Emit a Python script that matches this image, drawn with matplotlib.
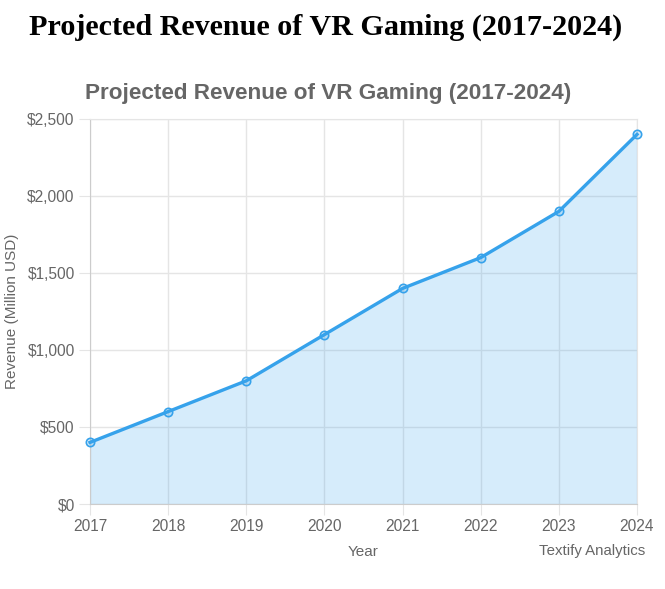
import matplotlib.pyplot as plt
from matplotlib.ticker import FuncFormatter

# data
years = [2017, 2018, 2019, 2020, 2021, 2022, 2023, 2024]
revenue = [400, 600, 800, 1100, 1400, 1600, 1900, 2400]
y_ticks = [0, 500, 1000, 1500, 2000, 2500]

blue = '#36A2EB'
grey = '#666666'
grid = '#e5e5e5'

fig = plt.figure(figsize=(6.65, 5.89), dpi=100)
W, H = 665, 589
ax = fig.add_axes([90 / W, (H - 504) / H, (637 - 90) / W, (504 - 119) / H])

ax.fill_between(years, revenue, 0, color=blue, alpha=0.2, linewidth=0)
ax.plot(years, revenue, color=blue, linewidth=2.4, marker='o', markersize=6,
        markerfacecolor=(54/255, 162/255, 235/255, 0.2), markeredgecolor=blue,
        markeredgewidth=1.2, clip_on=False, zorder=3)

ax.set_xlim(2017, 2024)
ax.set_ylim(0, 2500)
ax.set_xticks(years)
ax.set_yticks(y_ticks)
ax.yaxis.set_major_formatter(FuncFormatter(lambda v, p: f"${int(v):,}"))
ax.grid(True, color=grid, linewidth=1)
ax.set_axisbelow(True)
for s in ax.spines.values():
    s.set_color(grid)
ax.spines['left'].set_color('#cccccc')
ax.spines['bottom'].set_color('#cccccc')
ax.tick_params(length=8, color=grid, labelcolor=grey, labelsize=11.2, pad=3)
for lab in ax.get_xticklabels() + ax.get_yticklabels():
    lab.set_fontfamily('Liberation Sans')

fig.text(12 / W, 1 - 311 / H, 'Revenue (Million USD)', ha='center', va='center',
         rotation=90, color=grey, fontsize=11, fontfamily='Liberation Sans')
fig.text(363 / W, 1 - 552 / H, 'Year', ha='center', va='center', color=grey,
         fontsize=11, fontfamily='Liberation Sans')
fig.text(592 / W, 1 - 551 / H, 'Textify Analytics', ha='center', va='center',
         color=grey, fontsize=10.8, fontfamily='Liberation Sans')
fig.text(328 / W, 1 - 93 / H, 'Projected Revenue of VR Gaming (2017-2024)',
         ha='center', va='center', color=grey, fontsize=16.2, fontweight='bold',
         fontfamily='Liberation Sans')
fig.text(326 / W, 1 - 27 / H, 'Projected Revenue of VR Gaming (2017-2024)',
         ha='center', va='center', color='black', fontsize=21.7, fontweight='bold',
         fontfamily='Liberation Serif')

fig.savefig('out.png', dpi=100)
